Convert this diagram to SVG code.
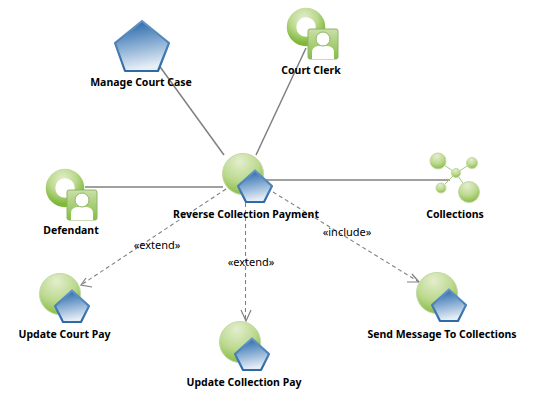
<svg xmlns="http://www.w3.org/2000/svg" xmlns:xlink="http://www.w3.org/1999/xlink" width="537" height="400" viewBox="0 0 537 400">
<style>
text{font-family:"Noto Sans","DejaVu Sans",sans-serif;text-anchor:middle;fill:#000}
.n{font-size:10.500px;font-weight:700}
.l{font-size:11px}
.s{fill:none;stroke:#808080;stroke-width:1.5}
.d{fill:none;stroke:#808080;stroke-width:1.1;stroke-dasharray:4 3}
.h{fill:none;stroke:#808080;stroke-width:1.2}
.pent{fill:url(#blue);stroke:url(#edge);stroke-width:2.200;stroke-linejoin:round}
.ball{fill:url(#green);stroke:#c4d9a6;stroke-width:1}
</style>
<defs>
<linearGradient id="blue" x1="0" y1="0" x2="0.2" y2="1"><stop offset="0.1" stop-color="#2f6dab"/><stop offset="0.5" stop-color="#7ea6cf"/><stop offset="1" stop-color="#e6eef6"/></linearGradient>
<linearGradient id="edge" x1="0" y1="0" x2="0" y2="1"><stop offset="0" stop-color="#6595c6"/><stop offset="1" stop-color="#2f6aa5"/></linearGradient>
<radialGradient id="green" cx="0.42" cy="0.2" r="0.85"><stop offset="0" stop-color="#e3eecd"/><stop offset="0.55" stop-color="#bcd98f"/><stop offset="1" stop-color="#7fb838"/></radialGradient>
<linearGradient id="tile" x1="0" y1="0" x2="0" y2="1"><stop offset="0" stop-color="#cbe0a8"/><stop offset="1" stop-color="#84bd45"/></linearGradient>
<g id="usecase">
<circle class="ball" cx="0" cy="0" r="20.500"/>
<path class="pent" d="M12-3.500 29 12 21 28H3L-5 12Z"/>
</g>
<g id="actor">
<circle cx="0" cy="0" r="14.500" fill="none" stroke="url(#green)" stroke-width="9.500"/>
<rect x="2" y="2" width="30" height="30" rx="2" fill="url(#tile)" stroke="#8fb56a"/>
<path d="M6 32V25Q6 20 12 19H22Q28 20 28 25V32Z" fill="#fff"/>
<circle cx="17" cy="12" r="7" fill="#fff" stroke="#8fb56a"/>
</g>
</defs>
<g id="connectors">
<path class="s" d="M158 64 224 155"/>
<path class="s" d="M306 48 256 155"/>
<path class="s" d="M85 187H223"/>
<path class="s" d="M263 180H450"/>
<path class="d" d="M226 189 81 285"/>
<path class="h" d="M86 278 81 285 92 287"/>
<path class="d" d="M245.500 203V321"/>
<path class="h" d="M241 310 246 321 251 310"/>
<path class="d" d="M273 192 419 282"/>
<path class="h" d="M412 274 419 282 407 282"/>
<text class="l" x="157" y="249">«extend»</text>
<text class="l" x="251" y="266">«extend»</text>
<text class="l" x="347" y="236">«include»</text>
</g>
<g id="manage-court-case">
<path class="pent" d="M142 21 169 43 158 71H125L115 43Z"/>
<text class="n" x="141" y="86">Manage Court Case</text>
</g>
<g id="court-clerk">
<use xlink:href="#actor" href="#actor" x="306" y="27"/>
<text class="n" x="311" y="74">Court Clerk</text>
</g>
<g id="defendant">
<use xlink:href="#actor" href="#actor" x="65" y="188"/>
<text class="n" x="71" y="234">Defendant</text>
</g>
<g id="reverse-collection-payment">
<use xlink:href="#usecase" href="#usecase" x="243" y="174"/>
<text class="n" x="246" y="218">Reverse Collection Payment</text>
</g>
<g id="collections">
<path fill="none" stroke="#a6c884" stroke-width="1" d="M438 161 456 173 472 163M456 173 441 188M456 173 469 192"/>
<circle class="ball" cx="438" cy="161" r="8"/>
<circle class="ball" cx="472" cy="163" r="5.500"/>
<circle class="ball" cx="456" cy="173" r="4.500"/>
<circle class="ball" cx="441" cy="188" r="5"/>
<circle class="ball" cx="469" cy="192" r="10.500"/>
<text class="n" x="455" y="218">Collections</text>
</g>
<g id="update-court-pay">
<use xlink:href="#usecase" href="#usecase" x="60" y="294"/>
<text class="n" x="64.500" y="338">Update Court Pay</text>
</g>
<g id="update-collection-pay">
<use xlink:href="#usecase" href="#usecase" x="240" y="342"/>
<text class="n" x="244" y="386">Update Collection Pay</text>
</g>
<g id="send-message-to-collections">
<use xlink:href="#usecase" href="#usecase" x="437" y="293"/>
<text class="n" x="442" y="338">Send Message To Collections</text>
</g>
</svg>
